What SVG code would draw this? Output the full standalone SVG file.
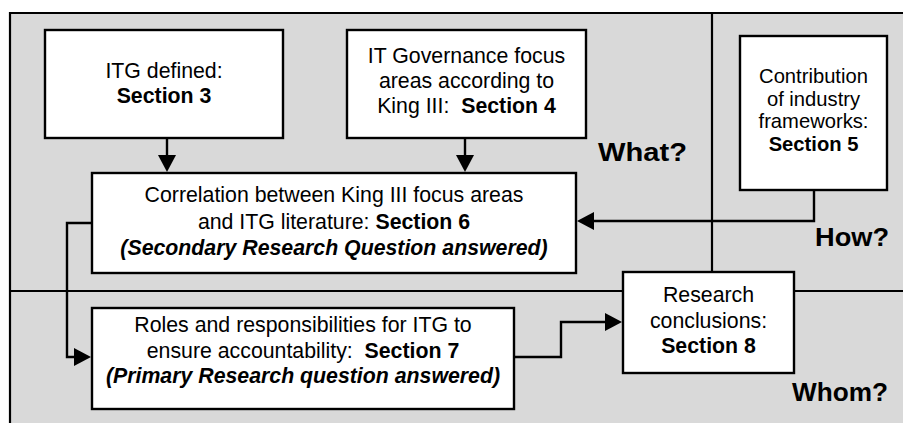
<svg xmlns="http://www.w3.org/2000/svg" width="903" height="423" viewBox="0 0 903 423">
<style>
.bg{fill:#d9d9d9;stroke:none}
.frame{fill:none;stroke:#000;stroke-width:2.2}
.box{fill:#fff;stroke:#000;stroke-width:2.4}
.t{font-family:"Liberation Sans",Arial,sans-serif;font-size:21.3px;fill:#000;text-anchor:middle}
.s{font-size:20.2px}
.b{font-weight:bold}
.bi{font-weight:bold;font-style:italic}
.q{font-family:"Liberation Sans",Arial,sans-serif;font-size:26.5px;font-weight:bold;fill:#000}
.c{fill:none;stroke:#000;stroke-width:2.4}
</style>
<defs>
<marker id="ah" markerUnits="userSpaceOnUse" markerWidth="17" markerHeight="18" refX="11" refY="9" orient="auto">
<path d="M0,0 L17,9 L0,18 z" fill="#000"/>
</marker>
</defs>
<rect class="bg" x="10" y="13" width="893" height="410"/>
<g id="frame">
<path class="frame" d="M10,423 V13 H903"/>
<path class="frame" d="M712,13 V272"/>
<path class="frame" d="M10,291 H623 M794,291 H903"/>
</g>
<g id="connectors">
<path class="c" d="M167,138 V166" marker-end="url(#ah)"/>
<path class="c" d="M465,138 V166" marker-end="url(#ah)"/>
<path class="c" d="M814,190 V221 H583" marker-end="url(#ah)"/>
<path class="c" d="M92,223 H67 V357 H85" marker-end="url(#ah)"/>
<path class="c" d="M514,357 H561 V322 H616" marker-end="url(#ah)"/>
</g>
<g id="n3">
<rect class="box" x="45" y="30" width="238" height="108"/>
<text class="t" x="164" y="78">ITG defined:</text>
<text class="t b" x="164" y="103">Section 3</text>
</g>
<g id="n4">
<rect class="box" x="347" y="30" width="239" height="108"/>
<text class="t" x="466.5" y="63">IT Governance focus</text>
<text class="t" x="466.5" y="88">areas according to</text>
<text class="t" x="466.5" y="113" xml:space="preserve">King III:  <tspan class="b">Section 4</tspan></text>
</g>
<g id="n5">
<rect class="box" x="740" y="36" width="147" height="154"/>
<text class="t s" x="813.5" y="83">Contribution</text>
<text class="t s" x="813.5" y="105.5">of industry</text>
<text class="t s" x="813.5" y="128">frameworks:</text>
<text class="t s b" x="813.5" y="150.5">Section 5</text>
</g>
<g id="n6">
<rect class="box" x="92" y="173" width="484" height="100"/>
<text class="t" x="334" y="202">Correlation between King III focus areas</text>
<text class="t" x="334" y="229">and ITG literature: <tspan class="b">Section 6</tspan></text>
<text class="t bi" x="334" y="255">(Secondary Research Question answered)</text>
</g>
<g id="n7">
<rect class="box" x="92" y="308" width="422" height="101"/>
<text class="t" x="303" y="332">Roles and responsibilities for ITG to</text>
<text class="t" x="303" y="358" xml:space="preserve">ensure accountability:  <tspan class="b">Section 7</tspan></text>
<text class="t bi" x="303" y="383">(Primary Research question answered)</text>
</g>
<g id="n8">
<rect class="box" x="623" y="272" width="171" height="101"/>
<text class="t" x="708.5" y="302">Research</text>
<text class="t" x="708.5" y="328">conclusions:</text>
<text class="t b" x="708.5" y="353">Section 8</text>
</g>
<g id="labels">
<text class="q" x="598" y="161" textLength="89" lengthAdjust="spacingAndGlyphs">What?</text>
<text class="q" x="815" y="246" textLength="74" lengthAdjust="spacingAndGlyphs">How?</text>
<text class="q" x="792" y="401" textLength="96" lengthAdjust="spacingAndGlyphs">Whom?</text>
</g>
</svg>
